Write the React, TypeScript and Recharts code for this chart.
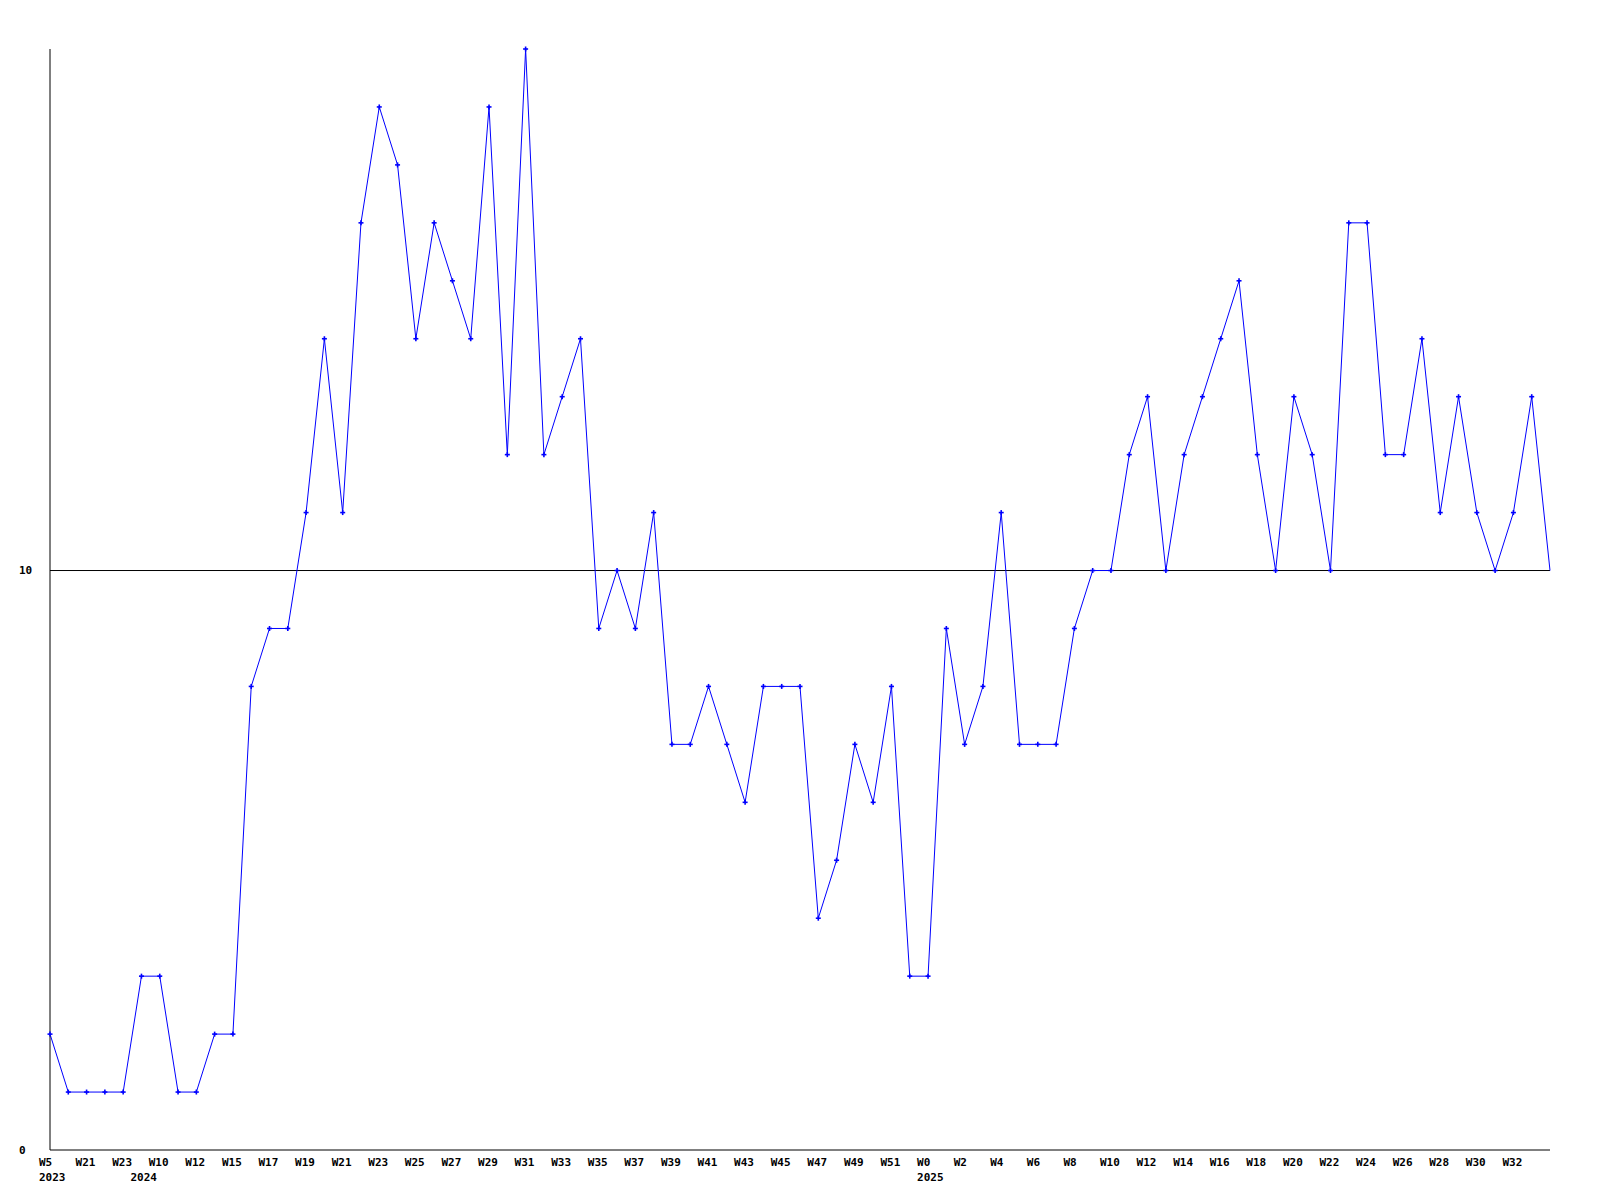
import React from "react";
import { LineChart, Line, XAxis, YAxis, ReferenceLine } from "recharts";

// Weekly counts, one point per reported week (gaps in 2023/early 2024 are real gaps in the source).
const weeks = [
  "2023-W5", "2023-W20", "2023-W21", "2023-W22", "2023-W23",
  "2024-W9", "2024-W10", "2024-W11", "2024-W12", "2024-W14",
  "2024-W15", "2024-W16", "2024-W17", "2024-W18", "2024-W19",
  "2024-W20", "2024-W21", "2024-W22", "2024-W23", "2024-W24",
  "2024-W25", "2024-W26", "2024-W27", "2024-W28", "2024-W29",
  "2024-W30", "2024-W31", "2024-W32", "2024-W33", "2024-W34",
  "2024-W35", "2024-W36", "2024-W37", "2024-W38", "2024-W39",
  "2024-W40", "2024-W41", "2024-W42", "2024-W43", "2024-W44",
  "2024-W45", "2024-W46", "2024-W47", "2024-W48", "2024-W49",
  "2024-W50", "2024-W51", "2024-W52", "2025-W0", "2025-W1",
  "2025-W2", "2025-W3", "2025-W4", "2025-W5", "2025-W6",
  "2025-W7", "2025-W8", "2025-W9", "2025-W10", "2025-W11",
  "2025-W12", "2025-W13", "2025-W14", "2025-W15", "2025-W16",
  "2025-W17", "2025-W18", "2025-W19", "2025-W20", "2025-W21",
  "2025-W22", "2025-W23", "2025-W24", "2025-W25", "2025-W26",
  "2025-W27", "2025-W28", "2025-W29", "2025-W30", "2025-W31",
  "2025-W32", "2025-W33", "2025-W34",
];

const counts = [
  2, 1, 1, 1, 1, 3, 3, 1, 1, 2,
  2, 8, 9, 9, 11, 14, 11, 16, 18, 17,
  14, 16, 15, 14, 18, 12, 19, 12, 13, 14,
  9, 10, 9, 11, 7, 7, 8, 7, 6, 8,
  8, 8, 4, 5, 7, 6, 8, 3, 3, 9,
  7, 8, 11, 7, 7, 7, 9, 10, 10, 12,
  13, 10, 12, 13, 14, 15, 12, 10, 13, 12,
  10, 16, 16, 12, 12, 14, 11, 13, 11, 10,
  11, 13, 10,
];

const yTicks = [0, 10];
const baseline = 10;

const data = weeks.map((w, i) => ({ week: w, count: counts[i] }));

const FONT = "'DejaVu Sans Mono', monospace";
const BLUE = "#0000ff";

function WeekTick(props: any) {
  const { x, payload } = props;
  const i = weeks.indexOf(payload.value);
  const [year, wk] = String(payload.value).split("-");
  const prevYear = i > 0 ? weeks[i - 1].split("-")[0] : null;
  // every other week gets a label; the current (last) week does not
  const showWeek = i % 2 === 0 && i < weeks.length - 1;
  const showYear = year !== prevYear;
  if (!showWeek && !showYear) return <g />;
  return (
    <g>
      {showWeek && (
        <text x={x - 11} y={1166} textAnchor="start" fontFamily={FONT} fontWeight="bold" fontSize={11} fill="#000">
          {wk}
        </text>
      )}
      {showYear && (
        <text x={x - 11} y={1181} textAnchor="start" fontFamily={FONT} fontWeight="bold" fontSize={11} fill="#000">
          {year}
        </text>
      )}
    </g>
  );
}

function CountTick(props: any) {
  const { y, payload } = props;
  return (
    <text x={19} y={y} dominantBaseline="central" textAnchor="start" fontFamily={FONT} fontWeight="bold" fontSize={11} fill="#000">
      {payload.value}
    </text>
  );
}

// small "+" marker on each point; the running (last) week is left unmarked
function PlusDot(props: any) {
  const { cx, cy, index } = props;
  if (index === counts.length - 1 || cx == null || cy == null) return <g key={`d${index}`} />;
  return (
    <g key={`d${index}`}>
      <line x1={cx - 2.5} y1={cy} x2={cx + 2.5} y2={cy} stroke={BLUE} strokeWidth={1.6} />
      <line x1={cx} y1={cy - 2.5} x2={cx} y2={cy + 2.5} stroke={BLUE} strokeWidth={1.6} />
    </g>
  );
}

export default function App() {
  return (
    <div style={{ position: "absolute", left: 0, top: 0, width: 1600, height: 1200, background: "#fff" }}>
      <LineChart width={1600} height={1200} data={data} margin={{ top: 49, right: 50, bottom: 0, left: 0 }}>
        <XAxis
          dataKey="week"
          interval={0}
          height={50}
          tickLine={false}
          axisLine={{ stroke: "#000", strokeWidth: 1 }}
          tick={<WeekTick />}
        />
        <YAxis
          width={50}
          domain={[0, 19]}
          ticks={yTicks}
          tickLine={false}
          axisLine={{ stroke: "#000", strokeWidth: 1 }}
          tick={<CountTick />}
        />
        <ReferenceLine y={baseline} stroke="#000" strokeWidth={1} />
        <Line
          type="linear"
          dataKey="count"
          stroke={BLUE}
          strokeWidth={1}
          dot={(p: any) => <PlusDot key={`d${p.index}`} {...p} />}
          activeDot={false}
          isAnimationActive={false}
        />
      </LineChart>
    </div>
  );
}
